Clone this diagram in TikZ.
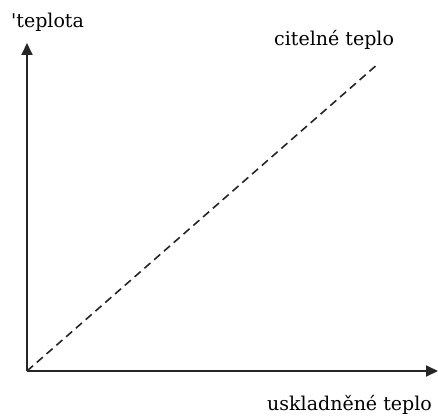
\documentclass[tikz,border=0pt]{standalone}
\usepackage{fontspec}
\setmainfont{DejaVu Serif}
\usetikzlibrary{arrows.meta}
\begin{document}
\begin{tikzpicture}[x=1pt,y=1pt,
  axis/.style={line width=1.8pt, draw=black!85, -{Triangle[length=12pt,width=11pt]}},
  curve/.style={line width=1.6pt, draw=black!85, dash pattern=on 8pt off 5pt},
  lbl/.style={font=\fontsize{19}{22}\selectfont, inner sep=0pt}]
\useasboundingbox (0,0) rectangle (438,418);
\coordinate (O) at (27,47);
\coordinate (Y) at (27,375);
\coordinate (X) at (438,47);
\coordinate (E) at (379,355);
\draw[axis] (O) -- (Y);
\draw[axis] (O) -- (X);
\draw[curve] (O) -- (E);
\node[lbl, anchor=west] (ty) at (11,396) {\textquotesingle teplota};
\node[lbl, anchor=west] (tc) at (274,378) {citelné teplo};
\node[lbl, anchor=west] (tx) at (267,13) {uskladněné teplo};
\end{tikzpicture}
\end{document}
